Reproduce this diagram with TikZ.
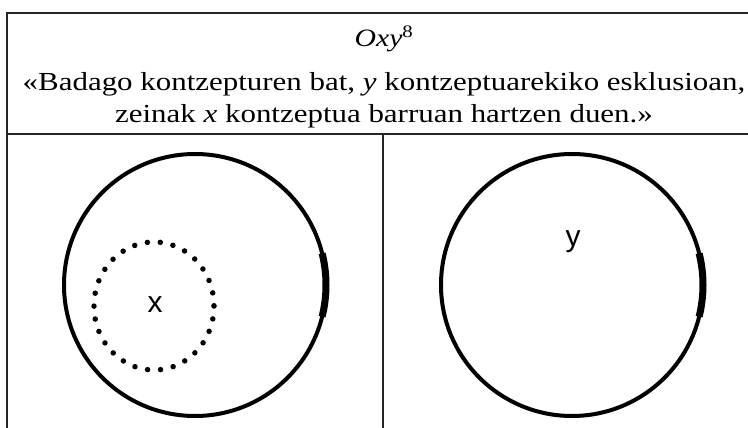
\documentclass[tikz,border=0pt]{standalone}
\usepackage{fontspec}
\setmainfont[FakeStretch=1.19]{Liberation Serif}
\setsansfont{Liberation Sans}
\usetikzlibrary{positioning}

\begin{document}
\begin{tikzpicture}[x=1pt,y=-1pt,
  rule/.style={black!85,line width=1.6pt},
  setline/.style={line width=4pt},
  dotline/.style={line width=5.5pt,line cap=round,dash pattern=on 0pt off 12.98pt},
  lbl/.style={font=\sffamily\fontsize{30}{30}\selectfont,inner sep=0pt}]
  \useasboundingbox (0,0) rectangle (748,428);
  % ---- table rules
  \draw[rule] (748,13) -- (7,13) -- (7,428);
  \draw[rule] (7,134) -- (748,134);
  \draw[rule] (383,134) -- (383,428);
  % ---- heading
  \node[font=\fontsize{26}{30}\selectfont,align=center,inner sep=0pt,anchor=base] (quote) at (384,122)
    {«Badago kontzepturen bat, \textit{y} kontzeptuarekiko esklusioan,\\[2pt]
     zeinak \textit{x} kontzeptua barruan hartzen duen.»};
  \node[font=\fontsize{25}{30}\selectfont,inner sep=0pt,anchor=base] (title) at (384,47)
    {\textit{Oxy}\textsuperscript{8}};
  % ---- left cell: x inside the outer set
  \begin{scope}
    \draw[setline] (195,285) circle (131);
    \draw[line width=7pt] (195,285) ++(-14:131) arc (-14:14:131);
    \draw[dotline] (154,306) ellipse (60 and 64);
    \node[lbl] (xlbl) at (155,305) {x};
  \end{scope}
  % ---- right cell: y
  \begin{scope}
    \draw[setline] (572,285) circle (131);
    \draw[line width=7pt] (572,285) ++(-14:131) arc (-14:14:131);
    \node[lbl] (ylbl) at (573,242) {y};
  \end{scope}
\end{tikzpicture}
\end{document}
